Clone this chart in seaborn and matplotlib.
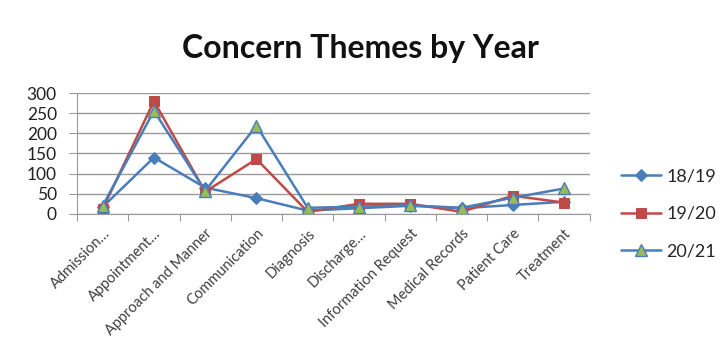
import matplotlib
matplotlib.use("Agg")
import matplotlib.pyplot as plt
import seaborn as sns
import pandas as pd

categories = ["Admission…", "Appointment…", "Approach and Manner", "Communication",
              "Diagnosis", "Discharge…", "Information Request", "Medical Records",
              "Patient Care", "Treatment"]
fy_18_19 = [17, 140, 65, 39, 8, 14, 20, 14, 22, 30]
fy_19_20 = [12, 280, 55, 136, 5, 25, 25, 5, 45, 28]
fy_20_21 = [20, 256, 57, 219, 15, 18, 21, 15, 40, 63]
series_names = ["18/19", "19/20", "20/21"]
y_ticks = [0, 50, 100, 150, 200, 250, 300]

sns.set_theme(style="white")
plt.rcParams["font.family"] = ["Lato", "DejaVu Sans"]

fig = plt.figure(figsize=(7.2, 3.5), dpi=100)
ax = fig.add_axes([0.107, 0.389, 0.712, 0.345])

blue = "#4A7EBB"
red = "#BE4B48"
green = "#9BBB59"
styles = [
    dict(color=blue, marker="D", markersize=6.5, markerfacecolor=blue, markeredgecolor=blue),
    dict(color=red, marker="s", markersize=7.5, markerfacecolor=red, markeredgecolor=red),
    dict(color=blue, marker="^", markersize=8, markerfacecolor=green, markeredgecolor=blue,
         markeredgewidth=1.0),
]

x_pos = list(range(len(categories)))
for name, vals, st in zip(series_names, [fy_18_19, fy_19_20, fy_20_21], styles):
    df = pd.DataFrame({"x": x_pos, "y": vals})
    sns.lineplot(data=df, x="x", y="y", ax=ax, label=name, linewidth=1.8, **st)

ax.set_xlim(-0.5, len(categories) - 0.5)
ax.set_ylim(0, 300)
ax.set_yticks(y_ticks)
ax.set_xticks(x_pos)
ax.set_xticklabels(categories, rotation=45, ha="right", rotation_mode="anchor", fontsize=10.5,
                   color="#404040")
ax.set_xticks([i - 0.5 for i in range(len(categories) + 1)], minor=True)
ax.tick_params(axis="x", which="major", length=0, pad=9)
ax.tick_params(axis="x", which="minor", length=5, color="#999999", width=0.8, direction="out",
               bottom=True)
ax.tick_params(axis="y", length=6, color="#999999", width=0.8, direction="out", left=True,
               labelsize=12.5, labelcolor="#222222", pad=8.5)
ax.set_xlabel("")
ax.set_ylabel("")

ax.yaxis.grid(True, color="#9A9A9A", linewidth=1.0)
ax.set_axisbelow(True)
for side in ["top", "right"]:
    ax.spines[side].set_visible(False)
ax.spines["left"].set_color("#9A9A9A")
ax.spines["bottom"].set_color("#9A9A9A")
ax.spines["left"].set_linewidth(0.8)
ax.spines["bottom"].set_linewidth(0.8)

ax.legend(loc="center left", bbox_to_anchor=(1.062, 0.0), frameon=False, fontsize=13,
          handlelength=2.2, labelspacing=1.2, handletextpad=0.28, borderpad=0,
          borderaxespad=0)

fig.text(0.5, 0.862, "Concern Themes by Year", ha="center", va="center", fontsize=23,
         fontweight="bold", color="#111111")

fig.savefig("out.png", dpi=100)
